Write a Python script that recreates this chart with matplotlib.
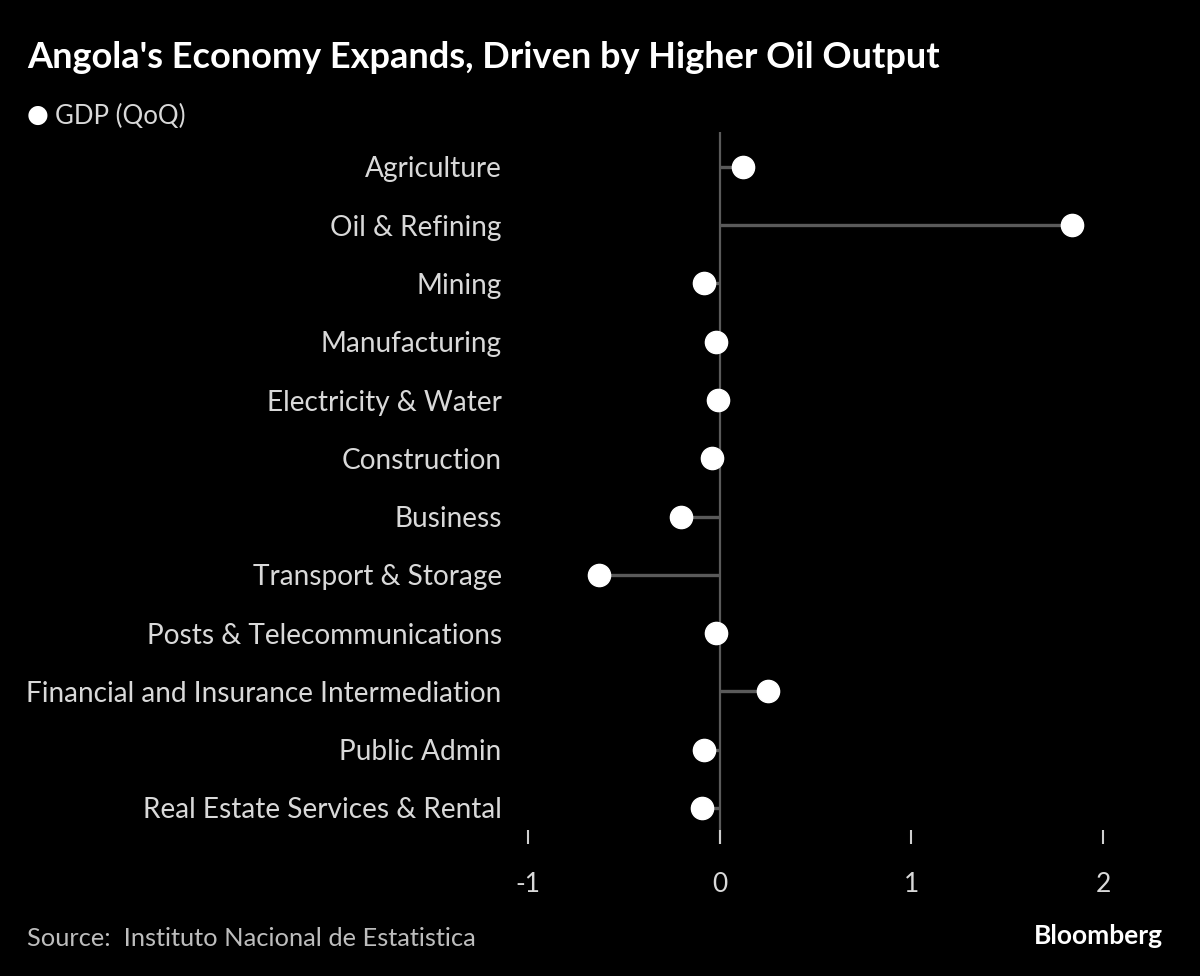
import matplotlib.pyplot as plt

# Data
sectors = ['Agriculture', 'Oil & Refining', 'Mining', 'Manufacturing',
           'Electricity & Water', 'Construction', 'Business',
           'Transport & Storage', 'Posts & Telecommunications',
           'Financial and Insurance Intermediation', 'Public Admin',
           'Real Estate Services & Rental']
gdp_qoq = [0.12, 1.84, -0.08, -0.02, -0.01, -0.04, -0.20, -0.63, -0.02,
           0.25, -0.08, -0.09]
xticks = [-1, 0, 1, 2]

plt.rcParams['font.family'] = ['Lato', 'DejaVu Sans']

W, H = 1200, 976
fig = plt.figure(figsize=(W / 100, H / 100), dpi=100, facecolor='black')

# axes box in pixels
left, right, top, bottom = 510, 1170, 132, 844
ax = fig.add_axes([left / W, 1 - bottom / H, (right - left) / W, (bottom - top) / H])
ax.set_facecolor('black')

ypos = list(range(len(sectors)))
ax.hlines(ypos, 0, gdp_qoq, color='#5a5a5a', lw=2.4, zorder=1)
ax.axvline(0, color='#5a5a5a', lw=1.6, zorder=1)
ax.plot(gdp_qoq, ypos, 'o', ms=16, color='white', mec='white', zorder=3)

ax.set_xlim(-1.094, 2.349)
ax.set_ylim(11.62, -0.6)
ax.set_yticks(ypos)
ax.set_yticklabels(sectors)
ax.set_xticks(xticks)
ax.set_xticklabels([str(t) for t in xticks])

for s in ax.spines.values():
    s.set_visible(False)
ax.tick_params(axis='y', length=0, pad=6, labelsize=20.2, labelcolor='#d9d9d9')
ax.tick_params(axis='x', direction='in', length=10, width=1.5, color='#cfcfcf',
               pad=20, labelsize=19, labelcolor='#d9d9d9')

fig.text(27 / W, 1 - 58 / H, "Angola's Economy Expands, Driven by Higher Oil Output",
         color='white', fontsize=26, fontweight='bold', va='center', ha='left')
fig.text(38 / W, 1 - 115 / H, '\u25cf', color='white', fontsize=18,
         va='center', ha='center', family=['DejaVu Sans'])
fig.text(55 / W, 1 - 116 / H, 'GDP (QoQ)', color='#d9d9d9', fontsize=18.5,
         va='center', ha='left')
fig.text(27 / W, 1 - 938 / H, 'Source:  Instituto Nacional de Estatistica',
         color='#bdbdbd', fontsize=18.3, va='center', ha='left')
fig.text(1163 / W, 1 - 936 / H, 'Bloomberg', color='white', fontsize=19,
         fontweight='bold', va='center', ha='right')

fig.savefig('out.png', dpi=100, facecolor='black')
